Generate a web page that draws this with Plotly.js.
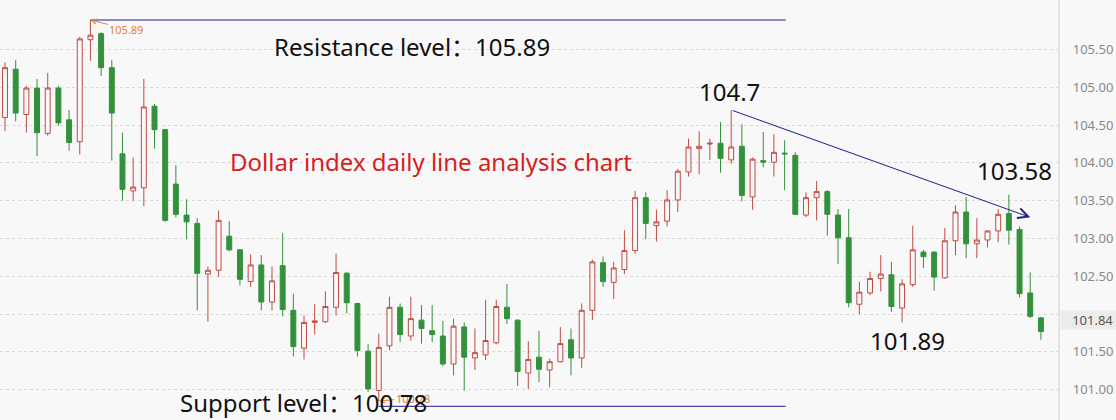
<!DOCTYPE html>
<html>
<head>
<meta charset="utf-8">
<script src="https://cdn.plot.ly/plotly-3.0.1.min.js"></script>
<style>
  html, body { margin: 0; padding: 0; background: #f8f8f8; }
  #chart { width: 1116px; height: 420px; }
</style>
</head>
<body>
<div id="chart"></div>
<script>
// ---- Data ----
const days = Array.from({length: 98}, (_, i) => i);
const opens = [
  104.60,105.24,104.64,104.99,104.39,104.99,104.57,104.28,105.63,105.71,
  105.26,104.12,103.63,103.67,104.75,104.44,103.72,103.31,103.20,102.53,
  102.58,103.03,102.85,102.43,102.65,102.16,102.64,102.05,101.55,101.89,
  101.90,102.09,102.54,102.14,101.51,100.99,101.58,102.09,101.71,101.92,
  101.78,101.71,101.34,101.83,101.42,101.46,101.62,102.09,101.92,101.22,
  101.43,101.26,101.37,101.66,101.42,102.05,102.68,102.42,102.59,102.84,
  103.54,103.17,103.23,103.51,103.88,104.19,104.25,104.26,104.04,104.22,
  103.55,104.03,104.01,104.13,104.10,103.31,103.54,103.62,103.31,103.01,
  102.13,102.28,102.47,102.52,102.08,102.39,102.82,102.82,102.48,102.97,
  103.35,102.93,102.98,103.10,103.33,103.12,102.28,101.95
];
const highs = [
  105.33,105.36,105.02,105.11,105.19,105.02,104.70,105.67,105.89,105.73,
  105.36,104.40,104.07,105.11,104.78,104.45,103.97,103.52,103.27,102.63,
  103.37,103.23,102.86,102.79,102.78,102.63,103.07,102.27,101.98,102.13,
  102.30,102.80,102.56,102.15,101.60,101.74,102.23,102.14,102.23,102.12,
  102.12,101.91,101.94,101.89,101.81,102.19,102.19,102.40,101.93,101.64,
  101.78,101.41,101.83,101.81,102.14,102.72,102.76,102.69,103.11,103.63,
  103.61,103.38,103.64,103.92,104.32,104.42,104.32,104.54,104.70,104.51,
  104.07,104.41,104.38,104.30,104.14,103.61,103.76,103.64,103.39,103.39,
  102.43,102.56,102.78,102.69,102.46,103.17,102.85,102.83,103.14,103.44,
  103.55,103.27,103.11,103.39,103.58,103.16,102.55,101.96
];
const lows = [
  104.42,104.55,104.40,104.09,104.36,104.49,104.16,104.11,105.35,105.15,
  104.03,103.50,103.50,103.43,104.19,103.22,103.28,102.99,102.05,101.90,
  102.49,102.83,102.38,102.36,102.05,102.05,101.97,101.44,101.40,101.73,
  101.88,101.98,102.01,101.44,100.97,100.85,101.52,101.63,101.65,101.61,
  101.63,101.31,101.19,100.99,101.26,101.39,101.60,101.87,101.05,101.01,
  101.10,101.03,101.36,101.19,101.29,101.92,102.36,102.20,102.53,102.80,
  102.99,102.96,103.16,103.35,103.82,103.85,104.04,103.87,103.99,103.49,
  103.38,103.94,103.82,103.64,103.31,103.28,103.24,103.04,102.66,102.09,
  102.00,102.25,102.30,102.03,101.89,102.36,102.61,102.31,102.47,102.78,
  102.74,102.74,102.88,102.95,102.92,102.22,101.95,101.66
];
const closes = [
  105.26,104.66,104.99,104.40,104.99,104.53,104.27,105.64,105.69,105.26,
  104.66,103.65,103.68,104.74,104.44,103.24,103.32,103.22,102.54,102.58,
  103.24,102.85,102.46,102.65,102.16,102.44,102.06,101.57,101.89,101.91,
  102.10,102.55,102.15,101.52,101.01,101.56,102.09,101.73,101.94,101.81,
  101.73,101.34,101.84,101.43,101.49,101.65,102.10,101.94,101.24,101.40,
  101.27,101.37,101.61,101.42,102.05,102.69,102.43,102.61,102.84,103.54,
  103.20,103.22,103.51,103.89,104.21,104.22,104.26,104.06,104.21,103.57,
  104.05,104.01,104.14,104.12,103.32,103.54,103.62,103.32,103.01,102.15,
  102.29,102.47,102.53,102.10,102.40,102.85,102.76,102.49,102.97,103.35,
  102.93,102.98,103.10,103.32,103.11,102.27,101.97,101.77
];
const tickValues = [101.0, 101.5, 102.0, 102.5, 103.0, 103.5, 104.0, 104.5, 105.0, 105.5];
const tickLabels = ['101.00', '101.50', '', '102.50', '103.00', '103.50', '104.00', '104.50', '105.00', '105.50'];
const resistance = 105.89, resistanceDay = 8;
const support = 100.78, supportDay = 35;
const levelEndDay = 73.1;
const trendStart = {day: 68, price: 104.7};
const trendEnd = {day: 96, price: 103.28};
const lastPrice = 101.84;
const swingLow = {day: 84, text: '101.89'};
const swingHigh = {day: 94, text: '103.58'};

// ---- Layout helpers (pixel -> paper within plot area) ----
const PW = 1058, PH = 420;
const px = x => x / PW;
const py = y => 1 - y / PH;

const RED = '#bf4b43', GREEN = '#33913c', NAVY = '#1e1e8c', ORANGE = '#e3813c';
const BIG = 'Noto Sans, Noto Sans CJK SC, sans-serif';
const PAD = '\u00a0\u00a0\u00a0';

const trace = {
  type: 'candlestick',
  x: days, open: opens, high: highs, low: lows, close: closes,
  increasing: {line: {color: RED, width: 1}, fillcolor: '#f8f8f8'},
  decreasing: {line: {color: GREEN, width: 1}, fillcolor: GREEN},
  whiskerwidth: 0,
  hoverinfo: 'skip'
};

function bigText(cx, cy, text, size, color) {
  return {xref: 'paper', yref: 'paper', x: px(cx), y: py(cy), xanchor: 'center', yanchor: 'middle',
          text: text, showarrow: false, font: {family: BIG, size: size, color: color || '#111'}};
}

const annotations = [
  // small orange high/low tags
  {x: resistanceDay, y: resistance, xref: 'x', yref: 'y', text: '105.89', showarrow: true,
   ax: 36, ay: 9, arrowhead: 5, arrowsize: 1, arrowwidth: 1, arrowcolor: ORANGE,
   font: {family: 'Noto Sans, sans-serif', size: 11, color: ORANGE}},
  {x: supportDay, y: 100.85, xref: 'x', yref: 'y', text: '100.78', showarrow: true,
   ax: 34, ay: -3, arrowhead: 5, arrowsize: 1, arrowwidth: 1, arrowcolor: ORANGE,
   font: {family: 'Noto Sans, sans-serif', size: 11, color: ORANGE}},
  // trend arrow
  {x: trendEnd.day, y: trendEnd.price, xref: 'x', yref: 'y', axref: 'x', ayref: 'y',
   ax: trendStart.day, ay: trendStart.price, text: '', showarrow: true,
   arrowhead: 5, arrowsize: 2, arrowwidth: 1, arrowcolor: NAVY, standoff: 0},
  // big texts
  bigText(412, 46, 'Resistance level：' + resistance.toFixed(2), 24),
  bigText(303, 402, 'Support level：' + support.toFixed(2), 24),
  bigText(431, 161, 'Dollar index daily line analysis chart', 24, '#d81e1e'),
  bigText(729, 91, String(trendStart.price), 24),
  bigText(1014, 170, swingHigh.text, 24),
  bigText(907, 340, swingLow.text, 24),
  // last price tag on the axis
  {xref: 'paper', yref: 'y', x: 1, y: lastPrice, yshift: 6, xanchor: 'left', yanchor: 'middle', xshift: 2,
   text: PAD + lastPrice.toFixed(2), showarrow: false, bgcolor: '#ebebeb', width: 56, height: 16, align: 'left',
   font: {family: 'Noto Sans, sans-serif', size: 13, color: '#555'}}
];

const shapes = [
  {type: 'line', xref: 'x', yref: 'y', x0: resistanceDay, x1: levelEndDay, y0: resistance, y1: resistance,
   line: {color: NAVY, width: 1}},
  {type: 'line', xref: 'x', yref: 'y', x0: supportDay, x1: levelEndDay, y0: support, y1: support,
   line: {color: NAVY, width: 1}}
];

const layout = {
  width: 1116, height: 420,
  margin: {l: 0, r: 58, t: 0, b: 0, pad: 0},
  paper_bgcolor: '#f8f8f8', plot_bgcolor: '#f8f8f8',
  showlegend: false,
  boxgap: 0.34,
  xaxis: {visible: false, range: [-0.468, 98.6], rangeslider: {visible: false}, fixedrange: true},
  yaxis: {
    side: 'right', range: [100.599, 106.155],
    tickvals: tickValues, ticktext: tickLabels.map(t => t ? PAD + t : ''),
    showgrid: true, gridcolor: '#d9d9d9', griddash: 'dot', gridwidth: 1,
    zeroline: false,
    showline: true, linecolor: '#e4e4e4', linewidth: 2,
    ticks: '',
    tickfont: {family: 'Noto Sans, sans-serif', size: 13, color: '#888'}
  },
  annotations: annotations,
  shapes: shapes
};

Plotly.newPlot('chart', [trace], layout, {staticPlot: true, displayModeBar: false});
</script>
</body>
</html>
